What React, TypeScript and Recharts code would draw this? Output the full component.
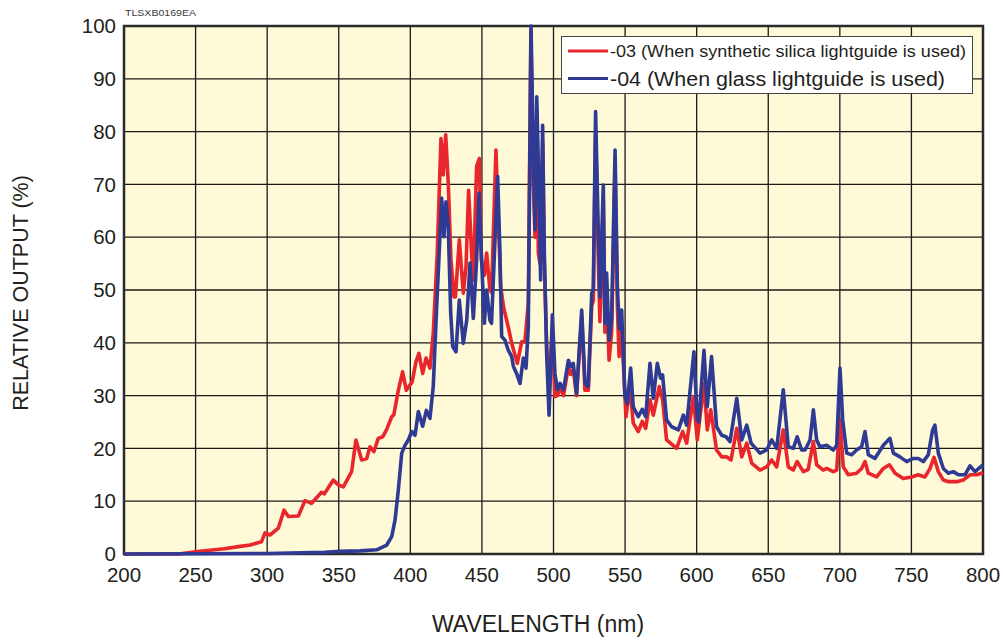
import {
  CartesianGrid,
  Line,
  LineChart,
  ReferenceArea,
  XAxis,
  YAxis,
} from 'recharts';

// wavelength (nm) / relative output (%), per lightguide
const redNm = [
  200, 238, 250, 260, 270, 280, 288, 296, 298.5, 302, 307.8, 311.8, 314.8, 321.8, 326.4, 331, 338, 340,
  346.2, 349.7, 353.2, 359, 362, 366, 369.5, 371.8, 374.6, 377.6, 380.7, 383.5, 387, 388.5, 391.6, 394.6,
  397.2, 401.3, 404, 406, 408.6, 411, 413.7, 416, 418.8, 421.4, 423, 424.7, 426.5, 428.4, 430.5, 431.5,
  434.2, 437, 438.9, 440.7, 442.8, 444, 446.3, 448.2, 449.6, 451.7, 453.3, 455.6, 456.7, 459.8, 461.5,
  463.1, 465.3, 468.4, 470.8, 474.7, 477.8, 480, 482.4, 484.2, 485.7, 487.1, 488.3, 489.4, 490.5, 492.4,
  493.6, 495.2, 496.9, 499.2, 501, 502.7, 504.6, 507, 510.4, 512, 513.8, 516.1, 519.7, 522, 524.3, 526.7,
  527.8, 529.4, 531.2, 532.4, 534.8, 535.9, 537.1, 538.8, 540.6, 543, 544.6, 545.8, 547.6, 550.6, 553.4,
  555.7, 559.2, 562, 564.4, 567.4, 569.7, 573.9, 576.2, 579, 586, 590.2, 593, 597.7, 600.4, 605.1, 607.4,
  609.8, 613.9, 617.5, 621, 624, 628, 631.5, 635, 638.4, 644.2, 648.9, 652.4, 655.9, 660.5, 664, 667.5,
  670.2, 674.5, 677.9, 681.5, 683.8, 688.4, 690.8, 695.4, 697.8, 700.1, 702.4, 705.9, 711.7, 715.2,
  717.6, 719.9, 725.7, 730.4, 734.6, 738.6, 744.3, 750.2, 754.8, 759.5, 763, 765.8, 768.8, 772.3, 775.8,
  781.6, 786.2, 790.9, 795.6, 800,
];
const redPct = [
  0, 0, 0.4, 0.7, 1.0, 1.4, 1.7, 2.3, 4.0, 3.6, 4.9, 8.3, 7.1, 7.2, 10.1, 9.6, 11.7, 11.4,
  14.0, 13.1, 12.7, 15.6, 21.6, 17.8, 18.1, 20.3, 19.4, 21.9, 22.2, 23.6, 26.0, 26.4, 31, 34.5,
  31, 32.6, 36.5, 38, 34.2, 37.1, 35.2, 41.8, 57, 78.7, 71.8, 79.4, 70.2, 55.7, 48.7, 48.7,
  59.5, 49.4, 54.4, 68.9, 57, 51.9, 73.4, 74.9, 55.7, 52.8, 57, 50, 49.5, 76.5, 63.3,
  50.6, 46.5, 43, 39.9, 36.1, 40.2, 40.2, 47.5, 99, 72, 60, 84, 57, 55, 78,
  55, 40, 31, 42, 29.8, 30, 31.5, 30, 35.5, 34, 35, 30, 45, 31, 31, 47,
  48, 80, 57, 44, 67, 42, 50, 36.7, 42, 74, 47, 37.4, 43, 26, 31.7,
  24.8, 23.2, 25.1, 23.8, 29.2, 26.3, 31.7, 29.2, 21.6, 20, 23.2, 21, 29.8, 21.6, 32.3, 23.5,
  27.3, 19.7, 18.4, 18.4, 17.8, 23.8, 18.4, 21, 17.2, 15.9, 16.5, 17.8, 16.5, 23.5, 16.5, 15.9,
  17.5, 15.6, 16, 21.3, 16.9, 15.9, 16.2, 15.6, 15.9, 25.4, 16.5, 15, 15.3, 16.2,
  17.5, 15.3, 14.6, 16.2, 16.9, 15.3, 14.3, 14.6, 15, 14.6, 16.2, 18.3, 15.6, 14, 13.7,
  13.7, 14, 15, 15, 15.4,
];

const blueNm = [
  200, 300, 340, 350.9, 365, 376.5, 383.5, 387, 389.3, 391.6, 394, 396.3, 398.6, 401, 403.3, 405.6,
  408.6, 411.2, 413.7, 416, 418.4, 421.9, 423.5, 424.9, 426.5, 428.2, 429.6, 431.9, 434.2, 437, 439.4,
  441.7, 444, 446.3, 448, 449.8, 451.7, 453.3, 455.6, 456.7, 461, 462.6, 463.8, 466.1, 468.4, 470.8,
  472, 474.2, 476.6, 478.9, 480.8, 482.4, 484.3, 485.9, 487.1, 488.3, 490.1, 491, 492.4, 493.6, 495.2,
  496.9, 499.2, 501, 502.7, 504.6, 507, 510.4, 512, 513.8, 516.1, 519.7, 522, 524.3, 526.7, 527.8,
  529.4, 531.2, 532.4, 534.8, 535.9, 537.1, 538.8, 540.6, 543, 544.6, 546, 547.6, 549.9, 551.5, 553.9,
  555.7, 559.2, 562, 564.4, 567.4, 569.7, 572.5, 574.8, 576.2, 579, 582.5, 587.2, 590.7, 593, 598.1,
  600.4, 601.5, 605.1, 607.4, 610.4, 613.9, 617.5, 620.5, 623.3, 628, 631.5, 635, 638, 644.2, 648.9,
  652.4, 655.9, 660.5, 664, 667.5, 670.2, 673.3, 675.7, 679.2, 681.5, 683.8, 686.1, 690.8, 695.4, 697.8,
  700.1, 702, 704.8, 708.3, 711.7, 715.2, 717.6, 719.9, 724.5, 730.4, 735, 737.4, 742, 746.7, 751.3,
  754.8, 758.3, 761.8, 764.8, 766.4, 768.8, 772.3, 775.8, 779.3, 782.8, 787.4, 790.9, 794.4, 800,
];
const bluePct = [
  0, 0.1, 0.3, 0.5, 0.6, 0.8, 1.7, 3.3, 6.4, 12.1, 19.1, 20.6, 21.6, 23.2, 22.5, 27,
  24.2, 27.2, 25.7, 31.7, 46.8, 67.4, 60.1, 66.7, 62, 45.6, 39.3, 38.3, 48.1, 39.9, 44.3,
  55.1, 44.6, 55.7, 68.3, 55.7, 43.7, 50, 44.3, 43.7, 71.5, 57, 41.2, 40.5, 38.6, 37.4,
  35.5, 34.2, 32.3, 37.1, 35.2, 43, 100, 76, 61.4, 86.6, 65.8, 51.9, 81.2, 57, 38,
  26.3, 45.3, 34.2, 31.1, 32.3, 31.1, 36.7, 35.5, 36.1, 30.4, 46.2, 32.3, 31.7, 49.4, 50,
  83.8, 62, 48.7, 69.9, 43.7, 53.2, 40.5, 44.3, 76.5, 50.6, 42.7, 46.2, 29.8, 28.5, 35.2,
  27.9, 26, 27.4, 26, 36.1, 29.5, 36.1, 33.3, 33.9, 25.4, 24.1, 23.5, 26.3, 24.4, 38.3,
  25.4, 25, 38.6, 27.9, 37.4, 24.1, 22.5, 22.2, 21.3, 29.5, 21.6, 24.4, 21, 19.1, 19.7,
  21.6, 20, 31.1, 20.3, 20, 22.2, 19.7, 19.7, 21.6, 27.3, 21.6, 20.3, 20.6, 19.7, 20.6,
  35.2, 25.4, 19.1, 18.8, 19.7, 20.3, 23.2, 18.8, 18.1, 20.6, 21.9, 19.1, 18.4, 17.5, 18.1,
  18.1, 17.5, 18.8, 23.5, 24.4, 19.1, 16.2, 15.3, 15.6, 15, 15, 16.7, 15.6, 16.9,
];

const xTicks = [200, 250, 300, 350, 400, 450, 500, 550, 600, 650, 700, 750, 800];
const yTicks = [0, 10, 20, 30, 40, 50, 60, 70, 80, 90, 100];

const redLabel = '-03 (When synthetic silica lightguide is used)';
const blueLabel = '-04 (When glass lightguide is used)';

const RED = '#e8262b';
const BLUE = '#2f3a94';
const FONT = '"Liberation Sans", Arial, Helvetica, sans-serif';
const TEXT = '#231f20';

const redData = redNm.map((nm, i) => ({ nm, value: redPct[i] }));
const blueData = blueNm.map((nm, i) => ({ nm, value: bluePct[i] }));

export default function App() {
  return (
    <div
      style={{
        position: 'absolute',
        left: 0,
        top: 0,
        width: 1003,
        height: 642,
        background: '#ffffff',
        fontFamily: FONT,
      }}
    >
      <LineChart
        width={1003}
        height={642}
        margin={{ top: 26, right: 20, left: 0, bottom: 0 }}
      >
        <CartesianGrid
          stroke="#1a1a1a"
          strokeWidth={1.3}
          fill="#fef9d7"
          fillOpacity={1}
        />
        <XAxis
          dataKey="nm"
          type="number"
          domain={[200, 800]}
          ticks={xTicks}
          allowDuplicatedCategory={false}
          tickLine={false}
          axisLine={false}
          height={88}
          tickMargin={7}
          tick={{ fill: TEXT, fontSize: 20.5, fontFamily: FONT }}
          label={() => (
            <text
              x={538}
              y={632}
              textAnchor="middle"
              fill={TEXT}
              fontSize={23}
              fontFamily={FONT}
            >
              WAVELENGTH (nm)
            </text>
          )}
        />
        <YAxis
          type="number"
          domain={[0, 100]}
          ticks={yTicks}
          tickLine={false}
          axisLine={false}
          width={124}
          tick={{ fill: TEXT, fontSize: 20.5, fontFamily: FONT }}
          label={() => (
            <text
              x={28}
              y={293}
              transform="rotate(-90 28 293)"
              textAnchor="middle"
              fill={TEXT}
              fontSize={21.5}
              fontFamily={FONT}
            >
              RELATIVE OUTPUT (%)
            </text>
          )}
        />
        <ReferenceArea
          x1={200}
          x2={800}
          y1={0}
          y2={100}
          fill="none"
          stroke="#2b2b2b"
          strokeWidth={2.5}
        />
        <Line
          data={redData}
          dataKey="value"
          type="linear"
          stroke={RED}
          strokeWidth={3.6}
          strokeLinejoin="round"
          dot={false}
          activeDot={false}
          isAnimationActive={false}
        />
        <Line
          data={blueData}
          dataKey="value"
          type="linear"
          stroke={BLUE}
          strokeWidth={3.6}
          strokeLinejoin="round"
          dot={false}
          activeDot={false}
          isAnimationActive={false}
        />
      </LineChart>

      <svg
        width={120}
        height={20}
        style={{ position: 'absolute', left: 124, top: 4 }}
      >
        <text
          x={1}
          y={12}
          fontSize={9.5}
          fill="#3a3a3a"
          fontFamily={FONT}
          textLength={71}
          lengthAdjust="spacingAndGlyphs"
        >
          TLSXB0169EA
        </text>
      </svg>

      <div
        style={{
          position: 'absolute',
          left: 561,
          top: 36,
          width: 412,
          height: 58,
          background: '#ffffff',
          border: '1px solid #444',
          boxSizing: 'border-box',
        }}
      >
        <svg width={410} height={56}>
          <line x1={6} x2={46} y1={14} y2={14} stroke={RED} strokeWidth={3} />
          <text
            x={48}
            y={19.5}
            fontSize={17}
            fill={TEXT}
            fontFamily={FONT}
            textLength={356}
            lengthAdjust="spacingAndGlyphs"
          >
            {redLabel}
          </text>
          <line x1={6} x2={46} y1={41.5} y2={41.5} stroke={BLUE} strokeWidth={3} />
          <text
            x={48}
            y={48.5}
            fontSize={20}
            fill={TEXT}
            fontFamily={FONT}
            textLength={335}
            lengthAdjust="spacingAndGlyphs"
          >
            {blueLabel}
          </text>
        </svg>
      </div>
    </div>
  );
}
